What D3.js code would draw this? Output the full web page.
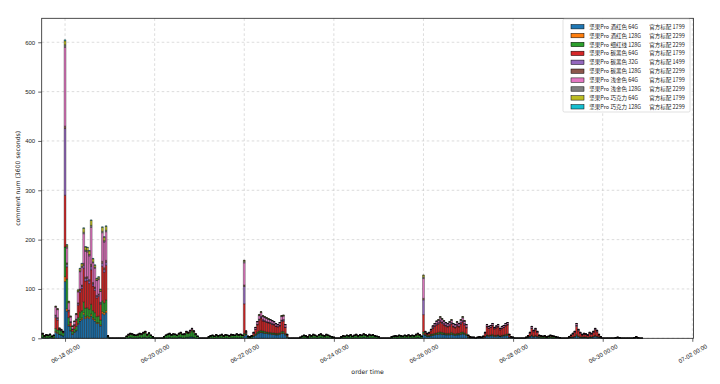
<!DOCTYPE html>
<html>
<head>
<meta charset="utf-8">
<script src="https://cdn.jsdelivr.net/npm/d3@7"></script>
<style>
  body { margin: 0; background: #fff; }
  svg { display: block; font-family: "DejaVu Sans", sans-serif; }
</style>
</head>
<body>
<svg width="720" height="384"></svg>
<script>
// hourly comment counts, one value per hour starting 06-17 12:00
var firstHour = new Date(2017, 5, 17, 12);

var seriesLabels = [
  '坚果Pro 酒红色 64G 官方标配 1799',
  '坚果Pro 酒红色 128G 官方标配 2299',
  '坚果Pro 细红线 128G 官方标配 2299',
  '坚果Pro 碳黑色 64G 官方标配 1799',
  '坚果Pro 碳黑色 32G 官方标配 1499',
  '坚果Pro 碳黑色 128G 官方标配 2299',
  '坚果Pro 浅金色 64G 官方标配 1799',
  '坚果Pro 浅金色 128G 官方标配 2299',
  '坚果Pro 巧克力 64G 官方标配 1799',
  '坚果Pro 巧克力 128G 官方标配 2299'
];
var colors = ['#1f77b4', '#ff7f0e', '#2ca02c', '#d62728', '#9467bd',
              '#8c564b', '#e377c2', '#7f7f7f', '#bcbd22', '#17becf'];

var jiuhong64 = [
  2,1,1,1,2,1,1,12,10,8,7,5,
  115,55,25,15,8,12,15,28,35,38,48,40,42,40,45,38,35,30,30,25,50,48,52,2,
  0,0,0,0,0,0,0,0,0, 1,1,2,1,1,1,1,2,1,2,2,1,2,1,0, 0,0,0,0,0, 0,1,1,2,1,1,1,1,2,2,1,1,2,2,3,3,2,1,0, 0,0,0,0,0, 0,1,1,0,1,1,1,1,0,1,1,0,1,1,1,1,1,1,1,
  5,8,1,1,1,4,6,9,11,12,11,10,10,9,9,8,8,7,7,8,10,10,7,2,
  0,0,0,0,0,0, 0,1,1,1,0,1,1,1,1,0,1,2,1,1,1,1,1,0, 0,0,0,0,1,1,1,1, 1,1,0,1,1,1,1,1,2,1,1,1,1,1,1,0,0, 0,0,0,0,0,0, 0,1,1,0,1,1,1,1,1,1,1,1,1,1,2,1,1,
  8,6,4,4,5,6,7,8,8,9,8,8,7,7,7,8,7,6,7,7,8,9,8,6,
  2,1,1,1,0,1,1,1,1,3,5,4,5,5,4,4,5,4,4,5,5,6,2,1,
  1,0,0,0,0,0,0,1,2,3,5,3,4,3,2,1,1,1,1,1,2,1,1,1,
  1,0,0,0,0,0,1,2,2,3,5,3,2,2,2,2,1,2,2,3,4,3,2,1,
  0,0,0,0,0,0,0,0,1,0,0,0,0,0,0,0,0,1,1,0,0,0
];
var jiuhong128 = [
  0,0,0,0,0,0,0,2,2,0,0,0,
  10,5,2,1,1,1,1,2,3,3,4,3,3,3,4,3,3,2,2,2,4,4,4,0,
  0,0,0,0,0,0,0,0,0,0,0,0,0,0,0,0,0,0,0,0,0,0,0,0,
  0,0,0,0,0,0,0,0,0,0,0,0,0,0,0,0,0,0,0,0,0,0,0,0,
  0,0,0,0,0,0,0,0,0,0,0,0,0,0,0,0,0,0,0,0,0,0,0,0,
  2,0,0,0,0,0,1,1,1,1,1,1,1,1,1,1,1,1,1,1,1,1,1,0,
  0,0,0,0,0,0,0,0,0,0,0,0,0,0,0,0,0,0,0,0,0,0,0,0,
  0,0,0,0,0,0,0,0,0,0,0,0,0,0,0,0,0,0,0,0,0,0,0,0,
  0,0,0,0,0,0,0,0,0,0,0,0,0,0,0,0,0,0,0,0,0,0,0,0,
  2,0,0,0,1,1,1,1,1,1,1,1,1,1,1,1,1,1,1,1,1,1,1,1,
  0,0,0,0,0,0,0,0,0,0,1,1,1,1,1,1,1,0,1,1,1,1,0,0,
  0,0,0,0,0,0,0,0,0,0,1,0,1,0,0,0,0,0,0,0,0,0,0,0,
  0,0,0,0,0,0,0,0,0,0,1,1,0,0,0,0,0,0,0,0,1,0,0,0,
  0,0,0,0,0,0,0,0,0,0,0,0,0,0,0,0,0,0,0,0,0,0
];
var xihongxian128 = [
  6,3,5,4,5,2,4,6,5,9,8,6,
  60,60,15,8,5,6,8,12,15,15,22,18,17,16,20,15,14,12,13,10,22,20,22,2,
  0,0,0,0,0,0,0,0,0, 3,5,6,6,5,5,5,6,6,8,9,5,7,5,3, 0,0,0,0,0, 3,5,6,6,6,6,6,5,6,8,6,6,9,8,9,13,10,6,4, 0,0,0,0,0, 3,4,4,4,5,4,4,5,4,5,5,4,5,5,5,6,5,6,5,
  3,2,2,2,3,2,2,3,3,3,3,3,2,2,2,2,2,2,2,2,3,3,2,2,
  0,0,0,0,0,0, 2,3,4,3,3,4,4,5,4,3,5,5,4,4,5,4,3,3, 2,0,0,0,2,3,3,4, 4,5,3,4,5,4,5,4,5,5,4,5,4,5,4,3,3, 0,0,0,0,0,0, 3,3,3,3,4,4,3,4,3,4,3,4,4,5,5,5,3,
  3,2,2,2,2,2,2,2,3,3,3,2,2,2,2,3,2,2,2,2,3,3,2,2,
  2,1,1,1,0,1,1,1,1,1,1,1,1,2,1,1,1,1,1,1,2,2,1,1,
  1,0,0,0,0,0,0,1,1,1,1,1,1,1,2,2,2,2,1,2,2,2,2,1,
  1,1,0,0,0,0,1,1,1,1,2,1,1,1,1,1,1,1,1,1,1,1,1,1,
  0,0,0,0,0,0,0,1,1,1,0,0,0,0,0,0,0,0,1,1,0,0
];
var tanhei64 = [
  1,1,1,1,1,1,1,22,20,2,1,2,
  105,25,12,8,4,7,12,25,40,45,68,55,55,52,70,50,45,38,40,32,70,62,70,1,
  0,0,0,0,0,0,0,0,0, 0,1,1,1,1,0,1,1,1,1,2,1,1,0,0, 0,0,0,0,0, 0,0,1,1,0,1,1,0,1,1,1,1,2,1,2,2,2,1,0, 0,0,0,0,0, 0,0,1,0,1,0,1,1,1,1,0,1,1,1,0,1,1,1,0,
  60,2,1,0,1,4,9,14,21,25,20,20,19,19,18,17,16,14,13,14,20,21,12,3,
  0,0,0,0,0,0, 0,0,1,1,0,1,0,1,1,1,1,1,1,0,1,1,0,0, 0,0,0,0,0,1,0,1, 0,1,1,1,1,0,1,1,1,1,0,1,1,1,0,1,0, 0,0,0,0,0,0, 0,0,1,1,1,0,0,1,1,1,1,1,0,1,2,1,0,
  35,3,3,4,7,11,14,16,17,20,18,16,14,13,15,17,13,12,15,13,17,20,16,12,
  2,1,0,0,0,0,1,0,2,6,16,14,15,17,13,15,16,12,14,15,17,18,4,1,
  0,0,0,0,0,0,0,0,2,6,13,9,11,8,2,2,1,2,1,1,2,2,1,1,
  0,0,0,0,0,0,1,3,5,8,16,10,7,4,5,5,4,7,5,8,11,9,4,1,
  0,0,0,0,0,0,0,0,0,0,0,0,0,0,0,0,0,0,1,0,0,0
];
var tanhei32 = [
  0,0,0,0,0,0,0,3,3,0,0,0,
  135,5,2,1,1,1,2,3,4,4,6,5,5,5,7,4,4,3,3,2,6,5,6,0,
  0,0,0,0,0,0,0,0,0,0,0,0,0,0,0,0,0,0,0,0,0,0,0,0,
  0,0,0,0,0,0,0,0,0,0,0,0,0,0,0,0,0,0,0,0,0,0,0,0,
  0,0,0,0,0,0,0,0,0,0,0,0,0,0,0,0,0,0,0,0,0,0,0,0,
  35,1,0,0,0,0,1,1,2,2,2,1,1,1,1,1,1,1,1,1,2,2,1,0,
  0,0,0,0,0,0,0,0,0,0,0,0,0,0,0,0,0,0,0,0,0,0,0,0,
  0,0,0,0,0,0,0,0,0,0,0,0,0,0,0,0,0,0,0,0,0,0,0,0,
  0,0,0,0,0,0,0,0,0,0,0,0,0,0,0,0,0,0,0,0,0,0,0,0,
  30,1,0,0,1,1,1,2,2,2,2,2,2,1,2,2,1,1,2,1,2,2,2,1,
  0,0,0,0,0,0,0,0,0,0,1,1,1,1,1,1,1,1,1,1,1,1,0,0,
  0,0,0,0,0,0,0,0,0,0,1,1,1,0,0,0,0,0,0,0,0,0,0,0,
  0,0,0,0,0,0,0,0,0,0,2,1,0,0,0,0,0,0,0,0,1,1,0,0,
  0,0,0,0,0,0,0,0,0,0,0,0,0,0,0,0,0,0,0,0,0,0
];
var tanhei128 = [
  0,0,0,0,0,0,0,2,2,0,0,0,
  5,3,1,1,0,1,1,2,3,3,4,3,3,3,4,3,3,2,2,2,4,4,4,0,
  0,0,0,0,0,0,0,0,0,0,0,0,0,0,0,0,0,0,0,0,0,0,0,0,
  0,0,0,0,0,0,0,0,0,0,0,0,0,0,0,0,0,0,0,0,0,0,0,0,
  0,0,0,0,0,0,0,0,0,0,0,0,0,0,0,0,0,0,0,0,0,0,0,0,
  3,0,0,0,0,0,0,1,1,1,1,1,1,1,1,1,1,0,0,1,1,1,0,0,
  0,0,0,0,0,0,0,0,0,0,0,0,0,0,0,0,0,0,0,0,0,0,0,0,
  0,0,0,0,0,0,0,0,0,0,0,0,0,0,0,0,0,0,0,0,0,0,0,0,
  0,0,0,0,0,0,0,0,0,0,0,0,0,0,0,0,0,0,0,0,0,0,0,0,
  3,0,0,0,0,1,1,1,1,1,1,1,1,1,1,1,1,1,1,1,1,1,1,1,
  0,0,0,0,0,0,0,0,0,0,1,0,0,1,0,0,1,0,0,0,1,1,0,0,
  0,0,0,0,0,0,0,0,0,0,0,0,0,0,0,0,0,0,0,0,0,0,0,0,
  0,0,0,0,0,0,0,0,0,0,1,0,0,0,0,0,0,0,0,0,0,0,0,0,
  0,0,0,0,0,0,0,0,0,0,0,0,0,0,0,0,0,0,0,0,0,0
];
var qianjin64 = [
  1,0,0,0,0,0,0,16,16,1,1,1,
  160,30,15,9,5,6,9,22,35,36,60,52,50,48,75,40,38,30,29,22,58,52,58,0,
  0,0,0,0,0,0,0,0,0, 0,1,1,1,0,0,1,1,1,1,1,1,1,0,0, 0,0,0,0,0, 0,0,0,1,0,1,0,0,1,1,0,1,1,1,2,2,1,1,0, 0,0,0,0,0, 0,0,0,0,0,0,0,1,0,0,0,0,1,0,0,1,0,0,0,
  45,1,0,0,0,2,3,4,7,8,6,6,6,5,5,5,4,4,3,4,7,7,4,1,
  0,0,0,0,0,0, 0,0,0,0,0,1,0,1,0,0,0,1,0,0,1,0,0,0, 0,0,0,0,0,0,0,0, 0,0,0,0,1,0,0,0,1,0,0,1,0,0,0,0,0, 0,0,0,0,0,0, 0,0,0,0,0,0,0,0,0,1,0,0,0,1,1,0,0,
  40,1,1,1,2,3,3,4,4,5,5,4,4,4,4,4,4,4,4,4,4,5,4,4,
  0,0,0,0,0,0,0,0,0,2,3,3,3,3,2,3,3,2,3,3,3,3,1,0,
  0,0,0,0,0,0,0,0,0,2,3,2,2,2,0,0,0,0,0,0,0,0,0,0,
  0,0,0,0,0,0,0,0,2,2,3,2,2,1,2,1,1,2,2,2,2,2,1,0,
  0,0,0,0,0,0,0,0,0,0,0,0,0,0,0,0,0,0,0,0,0,0
];
var qianjin128 = [
  0,0,0,0,0,0,0,1,1,0,1,0,
  5,3,1,1,0,0,1,1,2,2,3,3,3,3,4,2,2,1,2,1,3,3,3,0,
  0,0,0,0,0,0,0,0,0,0,0,0,0,0,0,0,0,0,0,0,0,0,0,0,
  0,0,0,0,0,0,0,0,0,0,0,0,0,0,0,0,0,0,0,0,0,0,0,0,
  0,0,0,0,0,0,0,0,0,0,0,0,0,0,0,0,0,0,0,0,0,0,0,0,
  3,1,0,0,0,0,0,1,1,1,1,1,1,1,1,1,1,1,1,1,1,1,1,0,
  0,0,0,0,0,0,0,0,0,0,0,0,0,0,0,0,0,0,0,0,0,0,0,0,
  0,0,0,0,0,0,0,0,0,0,0,0,0,0,0,0,0,0,0,0,0,0,0,0,
  0,0,0,0,0,0,0,0,0,0,0,0,0,0,0,0,0,0,0,0,0,0,0,0,
  3,1,0,1,0,0,1,1,1,2,1,1,1,1,1,1,1,1,1,1,1,2,1,1,
  0,0,0,0,0,0,0,0,0,0,0,0,0,0,0,0,0,0,0,0,0,0,0,0,
  0,0,0,0,0,0,0,0,0,0,0,0,0,0,0,0,0,0,0,0,0,0,0,0,
  0,0,0,0,0,0,0,0,0,0,0,0,0,0,0,0,0,0,0,0,0,0,0,0,
  0,0,0,0,0,0,0,0,0,0,0,0,0,0,0,0,0,0,0,0,0,0
];
var qiaokeli64 = [
  0,0,0,0,0,0,0,1,1,1,0,0,
  8,3,2,1,1,1,1,3,4,5,8,6,6,7,10,6,4,3,3,3,8,7,8,0,
  0,0,0,0,0,0,0,0,0,0,0,0,0,0,0,0,0,0,0,0,0,0,0,0,
  0,0,0,0,0,0,0,0,0,0,0,0,0,0,0,0,0,0,0,0,0,0,0,0,
  0,0,0,0,0,0,0,0,0,0,0,0,0,0,0,0,0,0,0,0,0,0,0,0,
  2,0,0,0,0,0,0,0,1,1,1,1,1,1,0,0,0,0,0,0,1,1,0,0,
  0,0,0,0,0,0,0,0,0,0,0,0,0,0,0,0,0,0,0,0,0,0,0,0,
  0,0,0,0,0,0,0,0,0,0,0,0,0,0,0,0,0,0,0,0,0,0,0,0,
  0,0,0,0,0,0,0,0,0,0,0,0,0,0,0,0,0,0,0,0,0,0,0,0,
  4,0,0,0,0,0,0,0,1,1,1,1,0,0,1,1,0,0,1,0,1,1,1,0,
  0,0,0,0,0,0,0,0,0,0,0,0,0,0,0,0,0,0,0,0,0,0,0,0,
  0,0,0,0,0,0,0,0,0,0,0,0,0,0,0,0,0,0,0,0,0,0,0,0,
  0,0,0,0,0,0,0,0,0,0,0,0,0,0,0,0,0,0,0,0,0,0,0,0,
  0,0,0,0,0,0,0,0,0,0,0,0,0,0,0,0,0,0,0,0,0,0
];
var qiaokeli128 = [
  0,0,0,0,0,0,0,0,0,0,0,0,
  2,1,0,0,0,0,0,0,1,1,1,1,1,1,1,1,1,1,1,1,1,1,1,0
];

var seriesData = [jiuhong64, jiuhong128, xihongxian128, tanhei64, tanhei32,
                  tanhei128, qianjin64, qianjin128, qiaokeli64, qiaokeli128];

var xTickLabels = ['06-18 00:00', '06-20 00:00', '06-22 00:00', '06-24 00:00',
                   '06-26 00:00', '06-28 00:00', '06-30 00:00', '07-02 00:00'];
var yTicks = [0, 100, 200, 300, 400, 500, 600];

// layout
var svg = d3.select("svg");
var plot = { left: 41.7, right: 693.5, top: 18.3, bottom: 338.3 };
var fs = 6;

var x = d3.scaleTime()
    .domain([new Date(2017, 5, 17, 11, 30), new Date(2017, 6, 2, 0, 38)])
    .range([plot.left, plot.right]);
var y = d3.scaleLinear()
    .domain([0, 648.6])
    .range([plot.bottom, plot.top]);

var parseTick = d3.timeParse("%Y-%m-%d %H:%M");
var tickDates = xTickLabels.map(s => parseTick('2017-' + s));

var keys = seriesLabels.map((d, i) => 's' + i);
var nHours = d3.max(seriesData, a => a.length);
var rows = d3.range(nHours).map(function(i) {
  var r = { t: d3.timeHour.offset(firstHour, i) };
  keys.forEach((k, j) => r[k] = seriesData[j][i] || 0);
  return r;
});
var layers = d3.stack().keys(keys)(rows);

svg.append("rect").attr("width", 720).attr("height", 384).attr("fill", "#fff");

// grid
var grid = svg.append("g")
    .attr("stroke", "#c4c4c4")
    .attr("stroke-width", 0.6)
    .attr("stroke-dasharray", "2.6,2.4");
grid.selectAll(".gx").data(tickDates).enter().append("line")
    .attr("x1", d => x(d)).attr("x2", d => x(d))
    .attr("y1", plot.top).attr("y2", plot.bottom);
grid.selectAll(".gy").data(yTicks).enter().append("line")
    .attr("x1", plot.left).attr("x2", plot.right)
    .attr("y1", d => y(d)).attr("y2", d => y(d));

// stacked bars, one hour wide, centred on the hour
var halfHour = 30 * 60 * 1000;
function segPath(d) {
  var x0 = x(new Date(+d.data.t - halfHour)), x1 = x(new Date(+d.data.t + halfHour));
  var y0 = y(d[0]), y1 = y(d[1]);
  return "M" + x0 + "," + y0 + "H" + x1 + "V" + y1 + "H" + x0 + "Z";
}
svg.append("g")
  .selectAll("g")
  .data(layers)
  .enter().append("g")
    .attr("fill", (d, i) => colors[i])
  .selectAll("path")
  .data(d => d)
  .enter().append("path")
    .attr("d", segPath)
    .attr("stroke", "#000")
    .attr("stroke-width", 0.35);

// axes
var fmt = d3.timeFormat("%m-%d %H:%M");
var xAxis = svg.append("g")
    .attr("transform", "translate(0," + plot.bottom + ")")
    .call(d3.axisBottom(x).tickValues(tickDates).tickFormat(fmt).tickSize(3.5));
xAxis.select(".domain").remove();
xAxis.selectAll("line").attr("stroke", "#222").attr("stroke-width", 0.7);
xAxis.selectAll("text")
    .attr("y", 0).attr("dy", null)
    .attr("fill", "#222")
    .style("font-size", fs + "px")
    .attr("text-anchor", "middle")
    .attr("dominant-baseline", "central")
    .attr("transform", "translate(0,15.5) rotate(-30)");

var yAxis = svg.append("g")
    .attr("transform", "translate(" + plot.left + ",0)")
    .call(d3.axisLeft(y).tickValues(yTicks).tickSize(3.5).tickPadding(3));
yAxis.select(".domain").remove();
yAxis.selectAll("line").attr("stroke", "#222").attr("stroke-width", 0.7);
yAxis.selectAll("text").attr("fill", "#222").style("font-size", fs + "px");

// frame
svg.append("rect")
    .attr("x", plot.left).attr("y", plot.top)
    .attr("width", plot.right - plot.left).attr("height", plot.bottom - plot.top)
    .attr("fill", "none").attr("stroke", "#222").attr("stroke-width", 0.8);

// axis titles
svg.append("text")
    .attr("x", (plot.left + plot.right) / 2).attr("y", 374)
    .attr("text-anchor", "middle").attr("fill", "#222")
    .style("font-size", "6.2px")
    .text("order time");
svg.append("text")
    .attr("transform", "translate(20," + (plot.top + plot.bottom) / 2 + ") rotate(-90)")
    .attr("text-anchor", "middle").attr("fill", "#222")
    .style("font-size", "6.2px")
    .text("comment num (3600 seconds)");

// legend
var legend = svg.append("g").attr("transform", "translate(563,19)");
legend.append("rect")
    .attr("width", 127).attr("height", 93).attr("rx", 1.5)
    .attr("fill", "#fff").attr("fill-opacity", 0.85)
    .attr("stroke", "#cccccc").attr("stroke-width", 0.6);
var item = legend.selectAll(".item")
    .data(seriesLabels)
    .enter().append("g")
    .attr("transform", (d, i) => "translate(0," + (7.7 + 8.9 * i) + ")");
item.append("rect")
    .attr("x", 8).attr("y", -2.2).attr("width", 13).attr("height", 4.4)
    .attr("fill", (d, i) => colors[i])
    .attr("stroke", "#000").attr("stroke-width", 0.5);
var lt = item.append("text")
    .attr("dominant-baseline", "central")
    .attr("fill", "#222")
    .style("font-family", '"Noto Sans CJK SC", sans-serif')
    .style("font-size", "5.5px");
lt.append("tspan").attr("x", 26.3).text(d => d.slice(0, d.indexOf('官方') - 1));
lt.append("tspan").attr("x", 86.3).text(d => d.slice(d.indexOf('官方')));
</script>
</body>
</html>
